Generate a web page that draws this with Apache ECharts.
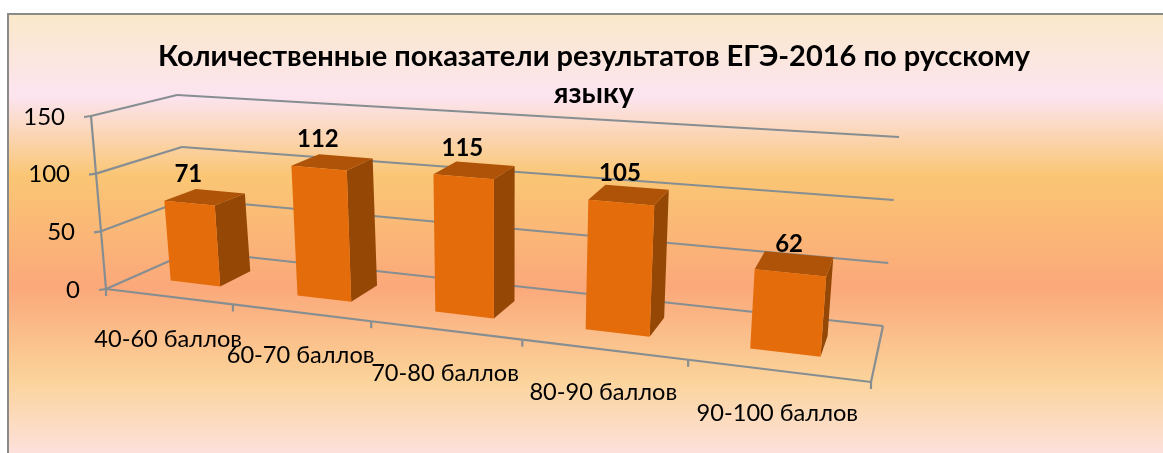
<!DOCTYPE html>
<html>
<head>
<meta charset="utf-8">
<script src="https://cdn.jsdelivr.net/npm/echarts@6/dist/echarts.min.js"></script>
<style>
html, body { margin: 0; padding: 0; background: #fff; }
#main { width: 1163px; height: 453px; }
</style>
</head>
<body>
<div id="main"></div>
<script>
var categories = ['40-60 баллов', '60-70 баллов', '70-80 баллов', '80-90 баллов', '90-100 баллов'];
var values = [71, 112, 115, 105, 62];
var yTicks = [0, 50, 100, 150];
var titleText = 'Количественные показатели результатов ЕГЭ-2016 по русскому\nязыку';

var font = 'Lato, "Open Sans", sans-serif';
var lineColor = '#868e92';

// hidden grid, only used as the scale in front of the fake 3d box
var gl = 100, gt = 100, gw = 500, gh = 150;

// box corners on screen: [u][v][d], u left-right, v up, d to the back
var corners = {
    '000': [106, 289], '100': [871, 382],
    '001': [192, 251], '101': [883, 326],
    '010': [91, 116],  '110': [887, 182],
    '011': [177, 95],  '111': [899, 137]
};

function project(u, v, d) {
    var x = 0, y = 0, sum = 0;
    for (var a = 0; a < 2; a++) {
        for (var b = 0; b < 2; b++) {
            for (var c = 0; c < 2; c++) {
                var p = corners['' + a + b + c];
                var w = (1 - 0.204 * a + 0.11 * c) * (a ? u : 1 - u) * (b ? v : 1 - v) * (c ? d : 1 - d);
                x += w * p[0];
                y += w * p[1];
                sum += w;
            }
        }
    }
    return [x / sum, y / sum];
}

function line(a, b) {
    return {
        type: 'line',
        shape: { x1: a[0], y1: a[1], x2: b[0], y2: b[1] },
        style: { stroke: lineColor, lineWidth: 2.2, fill: null }
    };
}

function face(points, color) {
    return { type: 'polygon', shape: { points: points }, style: { fill: color } };
}

function label(text, pos, size, bold) {
    return {
        type: 'text',
        style: {
            text: text,
            x: pos[0],
            y: pos[1],
            fill: '#000',
            font: (bold ? 'bold ' : '') + size + 'px ' + font,
            align: 'center',
            verticalAlign: 'middle'
        }
    };
}

function renderWall(params, api) {
    var c = api.coord([0, api.value(1)]);
    var v = (gt + gh - c[1]) / gh;
    var a = project(0, v, 0);
    var b = project(0, v, 1);
    var e = project(1, v, 1);
    var kids = [line([a[0] - 7, a[1] + 1], a), line(a, b), line(b, e)];
    var text = label(String(api.value(1)), [a[0] - 26, a[1] + 1], 24, false);
    text.style.align = 'right';
    kids.push(text);
    return { type: 'group', children: kids };
}

function renderFloor(params, api) {
    var c = api.coord([api.value(0), 0]);
    var band = api.size([1, 0])[0] / gw;
    var u = (c[0] - gl) / gw - band / 2;
    var a = project(u, 0, 0);
    var kids = [line(a, [a[0], a[1] + 7])];
    var n = project(u + band, 0, 0);
    kids.push(line(a, n));
    if (params.dataIndex === categories.length - 1) {
        kids.push(line(n, [n[0], n[1] + 7]));
        kids.push(line(n, project(1, 0, 1)));
    }
    if (params.dataIndex === 0) {
        kids.push(line(a, project(0, 1, 0)));
    }
    return { type: 'group', children: kids };
}

function renderBar(params, api) {
    var c = api.coord([api.value(0), api.value(1)]);
    var band = api.size([1, 0])[0] / gw;
    var um = (c[0] - gl) / gw;
    var v = (gt + gh - c[1]) / gh;
    var u0 = um - band * 0.2, u1 = um + band * 0.2;
    var d0 = 0.31, d1 = 0.69;
    var fbl = project(u0, 0, d0), fbr = project(u1, 0, d0);
    var ftl = project(u0, v, d0), ftr = project(u1, v, d0);
    var bbr = project(u1, 0, d1), btr = project(u1, v, d1), btl = project(u0, v, d1);
    var mid = project(um, v, d0);
    var low = project(um, 0, 0);
    return {
        type: 'group',
        children: [
            face([fbr, ftr, btr, bbr], '#954706'),
            face([ftl, ftr, btr, btl], '#ae5307'),
            face([fbl, fbr, ftr, ftl], '#e46c0a'),
            label(String(api.value(1)), [mid[0] - 1, mid[1] - 29], 24, true),
            label(categories[api.value(0)], [low[0], low[1] + 43], 23.6, false)
        ]
    };
}

var myChart = echarts.init(document.getElementById('main'));

var option = {
    animation: false,
    title: {
        text: titleText,
        left: 589,
        top: 33,
        textAlign: 'center',
        textStyle: {
            fontFamily: font,
            fontSize: 29,
            fontWeight: 'bold',
            color: '#000',
            lineHeight: 37
        }
    },
    graphic: [{
        type: 'rect',
        z: -10,
        silent: true,
        shape: { x: 8, y: 14, width: 1170, height: 450 },
        style: {
            stroke: '#8a8a88',
            lineWidth: 2,
            fill: new echarts.graphic.LinearGradient(0, 0, 0, 1, [
                { offset: 0, color: '#f9e9c8' },
                { offset: 0.185, color: '#fce4f0' },
                { offset: 0.36, color: '#fac674' },
                { offset: 0.607, color: '#fba87a' },
                { offset: 0.81, color: '#fbd39a' },
                { offset: 0.975, color: '#fde1dc' },
                { offset: 1, color: '#fde1dc' }
            ])
        }
    }],
    grid: { left: gl, top: gt, width: gw, height: gh },
    xAxis: { type: 'category', data: categories, show: false },
    yAxis: { type: 'value', min: 0, max: 150, interval: 50, show: false },
    series: [
        {
            name: 'walls',
            type: 'custom',
            renderItem: renderWall,
            data: yTicks.map(function (t) { return [0, t]; }),
            z: 2
        },
        {
            name: 'floor',
            type: 'custom',
            renderItem: renderFloor,
            data: categories.map(function (n, i) { return [i, 0]; }),
            z: 3
        },
        {
            name: 'bars',
            type: 'custom',
            renderItem: renderBar,
            data: values.map(function (v, i) { return [i, v]; }),
            z: 4
        }
    ]
};

myChart.setOption(option, true);
</script>
</body>
</html>
